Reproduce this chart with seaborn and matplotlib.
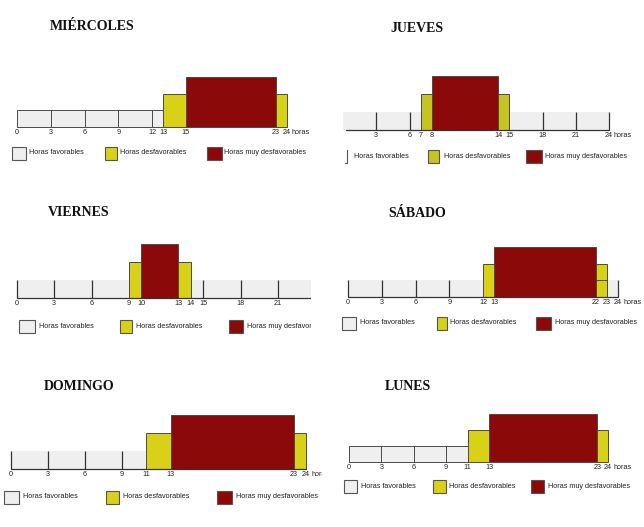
import matplotlib
matplotlib.use('Agg')
import matplotlib.pyplot as plt
import matplotlib.transforms as mtransforms
from matplotlib.patches import Rectangle
import seaborn as sns

sns.set_theme(style='white')
plt.rcParams['font.family'] = ['Liberation Sans', 'DejaVu Sans']

W, H = 644, 527

# datos: bordes de cada tramo (horas) y tipo de cada tramo
# F = favorable, D = desfavorable, M = muy desfavorable
miercoles_bordes = [0, 3, 6, 9, 12, 13, 15, 23, 24]
miercoles_tipos = ['F', 'F', 'F', 'F', 'F', 'D', 'M', 'D']
miercoles_ticks = [0, 3, 6, 9, 12, 13, 15, 23, 24]

jueves_bordes = [0, 7, 8, 14, 15, 24]
jueves_tipos = ['F', 'D', 'M', 'D', 'F']
jueves_ticks = [3, 6, 7, 8, 14, 15, 18, 21, 24]
jueves_marcas = [3, 6, 18, 21, 24]

viernes_bordes = [0, 9, 10, 13, 14, 24]
viernes_tipos = ['F', 'D', 'M', 'D', 'F']
viernes_ticks = [0, 3, 6, 9, 10, 13, 14, 15, 18, 21, 24]
viernes_marcas = [0, 3, 6, 15, 18, 21, 24]

sabado_bordes = [0, 12, 13, 22, 23, 24]
sabado_tipos = ['F', 'D', 'M', 'D', 'F']
sabado_ticks = [0, 3, 6, 9, 12, 13, 22, 23, 24]
sabado_marcas = [0, 3, 6, 9, 24]

domingo_bordes = [0, 11, 13, 23, 24]
domingo_tipos = ['F', 'D', 'M', 'D']
domingo_ticks = [0, 3, 6, 9, 11, 13, 23, 24]
domingo_marcas = [0, 3, 6, 9]

lunes_bordes = [0, 3, 6, 9, 11, 13, 23, 24]
lunes_tipos = ['F', 'F', 'F', 'F', 'D', 'M', 'D']
lunes_ticks = [0, 3, 6, 9, 11, 13, 23, 24]

leyenda = ['Horas favorables', 'Horas desfavorables', 'Horas muy desfavorables']

altura = {'F': 1, 'D': 2, 'M': 3}
GRIS, AMARILLO, ROJO = '#efefef', '#d8d118', '#8c0909'
BORDE = '#4a4a4a'

# paneles: titulo, datos, estilo y posicion (pixeles de la figura)
paneles = [
    dict(titulo='MIÉRCOLES', bordes=miercoles_bordes, tipos=miercoles_tipos,
         ticks=miercoles_ticks, marcas=None, tile=(0, 0, 322, 175),
         x0=17, x24=287, base=127, tope=77, tit=(50, 27),
         ley_y=153, ley=[(12, 14, 29), (105, 12, 120), (207, 15, 224)]),
    dict(titulo='JUEVES', bordes=jueves_bordes, tipos=jueves_tipos,
         ticks=jueves_ticks, marcas=jueves_marcas, tile=(322, 0, 322, 175),
         x0=343, x24=609, base=130, tope=76, tit=(390, 29), amarillo='#c8c222',
         ley_y=156, ley=[(347, 0, 354), (428, 11, 444), (526, 16, 545)]),
    dict(titulo='VIERNES', bordes=viernes_bordes, tipos=viernes_tipos,
         ticks=viernes_ticks, marcas=viernes_marcas, tile=(0, 190, 311, 150),
         x0=17, x24=315, base=298, tope=244, tit=(48, 212),
         ley_y=326, ley=[(19, 16, 39), (120, 12, 136), (229, 14, 247)]),
    dict(titulo='SÁBADO', bordes=sabado_bordes, tipos=sabado_tipos,
         ticks=sabado_ticks, marcas=sabado_marcas, tile=(322, 190, 322, 150),
         x0=348, x24=618, base=297, tope=247, tit=(388, 213), caja=(22, 23),
         ley_y=323, ley=[(342, 14, 360), (437, 10, 450), (536, 15, 555)]),
    dict(titulo='DOMINGO', bordes=domingo_bordes, tipos=domingo_tipos,
         ticks=domingo_ticks, marcas=domingo_marcas, tile=(0, 360, 322, 167),
         x0=11, x24=306, base=469, tope=415, tit=(44, 386),
         ley_y=497, ley=[(4, 15, 23), (106, 13, 123), (217, 15, 236)]),
    dict(titulo='LUNES', bordes=lunes_bordes, tipos=lunes_tipos,
         ticks=lunes_ticks, marcas=None, tile=(322, 360, 322, 167),
         x0=349, x24=608, base=462, tope=414, tit=(385, 386),
         ley_y=486, ley=[(344, 13, 361), (433, 13, 449), (531, 13, 548)]),
]

fig = plt.figure(figsize=(W / 100, H / 100), dpi=100, facecolor='white')

for p in paneles:
    tx, ty, tw, th = p['tile']
    pa = fig.add_axes([tx / W, 1 - (ty + th) / H, tw / W, th / H])
    pa.set_xlim(tx, tx + tw)
    pa.set_ylim(ty + th, ty)
    pa.axis('off')
    pa.patch.set_alpha(0)

    ca = fig.add_axes([p['x0'] / W, 1 - p['base'] / H,
                       (p['x24'] - p['x0']) / W, (p['base'] - p['tope']) / H])
    ca.set_xlim(0, 24)
    ca.set_ylim(0, 3)
    ca.axis('off')
    ca.patch.set_alpha(0)

    amarillo = p.get('amarillo', AMARILLO)
    colores = {'F': GRIS, 'D': amarillo, 'M': ROJO}
    bordes, tipos = p['bordes'], p['tipos']
    banda = p['marcas'] is not None

    artistas = []
    if banda:
        # franja gris continua con marcas verticales
        artistas += ca.bar(0, 1, width=24, align='edge', color=GRIS, linewidth=0)
    for i, t in enumerate(tipos):
        if banda and t == 'F':
            continue
        artistas += ca.bar(bordes[i], altura[t], width=bordes[i + 1] - bordes[i],
                           align='edge', color=colores[t], edgecolor=BORDE,
                           linewidth=0.7)
    if 'caja' in p:
        a, b = p['caja']
        artistas += ca.bar(a, 1, width=b - a, align='edge', color='none',
                           edgecolor=BORDE, linewidth=0.7)
    if banda:
        artistas.append(ca.plot([0.3 if p['marcas'][0] else 0, 24], [0, 0],
                                color='#333333', lw=0.9)[0])
        artistas += ca.vlines(p['marcas'], 0, 1, color='#333333', lw=0.9),
    for a in artistas:
        a.set_clip_path(pa.patch)

    # etiquetas de horas
    tr = mtransforms.blended_transform_factory(ca.transData, pa.transData)
    for h in p['ticks']:
        pa.text(h, p['base'] + 2, str(h), transform=tr, ha='center', va='top',
                fontsize=5.2, color='#222222', clip_on=True)
    tr_h = mtransforms.offset_copy(tr, fig=fig, x=5, y=0, units='dots')
    pa.text(24, p['base'] + 2, 'horas', transform=tr_h, ha='left', va='top',
            fontsize=5.2, color='#222222', clip_on=True)

    # titulo
    pa.text(p['tit'][0], p['tit'][1], p['titulo'], ha='left', va='center',
            fontsize=10, fontweight='bold', family='Liberation Serif',
            color='#111111', clip_on=True)

    # leyenda
    y = p['ley_y']
    for (bx, bw, txx), lab, c in zip(p['ley'], leyenda, [GRIS, amarillo, ROJO]):
        if bw == 0:
            pa.plot([bx, bx, bx - 2], [y - 6, y + 7, y + 7], color='#555555',
                    lw=0.8, clip_on=True)
        else:
            pa.add_patch(Rectangle((bx, y - 6.5), bw, 13, facecolor=c,
                                   edgecolor='#555555', linewidth=0.8, clip_on=True))
        pa.text(txx, y, lab, ha='left', va='center', fontsize=5.2,
                color='#222222', clip_on=True)

fig.savefig('out.png', dpi=100, facecolor='white')
